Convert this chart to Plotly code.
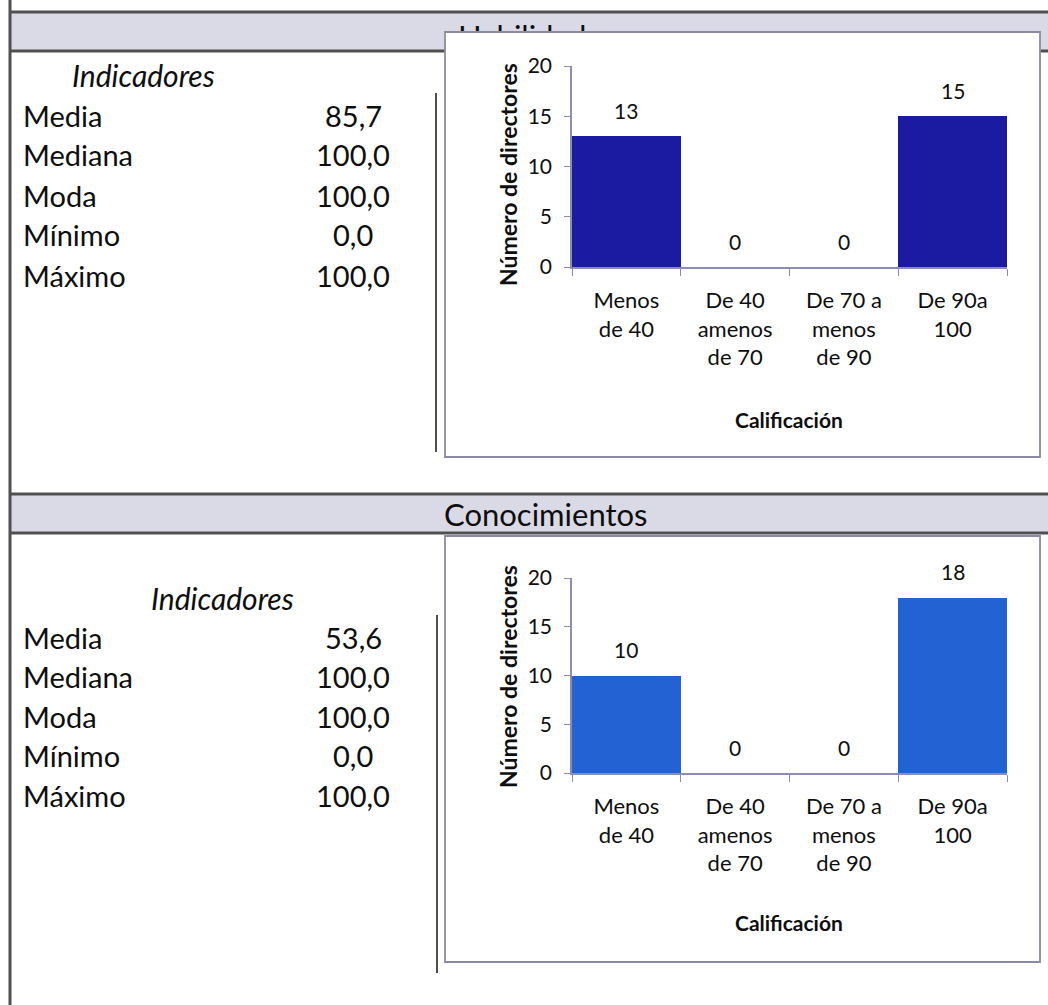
import plotly.graph_objects as go

W, H = 1048, 1005

# ---- data -------------------------------------------------------------
categories = ["Menos\nde 40", "De 40\namenos\nde 70", "De 70 a\nmenos\nde 90", "De 90a\n100"]
habilidades_counts = [13, 0, 0, 15]
conocimientos_counts = [10, 0, 0, 18]

indicator_names = ["Media", "Mediana", "Moda", "Mínimo", "Máximo"]
habilidades_stats = ["85,7", "100,0", "100,0", "0,0", "100,0"]
conocimientos_stats = ["53,6", "100,0", "100,0", "0,0", "100,0"]

y_ticks = [0, 5, 10, 15, 20]

# ---- styling ----------------------------------------------------------
FONT = "Lato"
TXT = "#0e0e0e"
AXIS = "#8c8cb4"
RULE = "#505050"
HEADER_FILL = "#dadae6"
BOX_LINE = "#8a8aa2"
DARK_BLUE = "#1b1ba2"
MID_BLUE = "#2262d2"


def fx(px):
    return px / W


def fy(py):
    return 1 - py / H


cat_labels = [c.replace("\n", "<br>") for c in categories]

fig = go.Figure()

# two bar panels
fig.add_trace(go.Bar(x=cat_labels, y=habilidades_counts, marker=dict(color=DARK_BLUE, line_width=0),
                     xaxis="x", yaxis="y", showlegend=False, hoverinfo="skip"))
fig.add_trace(go.Bar(x=cat_labels, y=conocimientos_counts, marker=dict(color=MID_BLUE, line_width=0),
                     xaxis="x2", yaxis="y2", showlegend=False, hoverinfo="skip"))

# page-wide overlay in pixel units (header title partly hidden by the chart frame)
fig.add_trace(go.Scatter(x=[537], y=[40], mode="text", text=["Habilidades"],
                         textfont=dict(family=FONT, size=31, color=TXT),
                         xaxis="x3", yaxis="y3", showlegend=False, hoverinfo="skip",
                         cliponaxis=False))

panels = [
    # (x axis, y axis, plot left, plot right, y of 0, y of 20)
    ("x", "y", 572, 1007, 267, 66),
    ("x2", "y2", 572, 1007, 773, 578),
]

axis_common_x = dict(type="category", categoryorder="array", categoryarray=cat_labels,
                     range=[-0.5, 3.5], tickson="boundaries", ticks="outside", ticklen=7,
                     tickcolor=AXIS, tickwidth=1.2, showline=True, linecolor=AXIS, linewidth=1.5,
                     showgrid=False, zeroline=False, ticklabelstandoff=13, automargin=False,
                     tickfont=dict(family=FONT, size=22, color=TXT), fixedrange=True)
axis_common_y = dict(range=[0, 20], tickvals=y_ticks, ticks="outside", ticklen=6,
                     tickcolor=AXIS, tickwidth=1.2, showline=True, linecolor=AXIS, linewidth=1.5,
                     showgrid=False, zeroline=False, ticklabelstandoff=8, automargin=False,
                     tickfont=dict(family=FONT, size=21, color=TXT), fixedrange=True)

layout_axes = {}
for xa, ya, left, right, y0, y20 in panels:
    xkey = "xaxis" if xa == "x" else "xaxis" + xa[1:]
    ykey = "yaxis" if ya == "y" else "yaxis" + ya[1:]
    layout_axes[xkey] = dict(axis_common_x, domain=[fx(left), fx(right)], anchor=ya)
    layout_axes[ykey] = dict(axis_common_y, domain=[fy(y0), fy(y20)], anchor=xa)

layout_axes["xaxis3"] = dict(domain=[0, 1], range=[0, W], visible=False, anchor="y3",
                             fixedrange=True, automargin=False)
layout_axes["yaxis3"] = dict(domain=[0, 1], range=[H, 0], visible=False, anchor="x3",
                             fixedrange=True, automargin=False)

shapes = []


def line(x0, y0, x1, y1, color=RULE, width=2, layer="below"):
    shapes.append(dict(type="line", xref="paper", yref="paper", x0=fx(x0), y0=fy(y0),
                       x1=fx(x1), y1=fy(y1), line=dict(color=color, width=width), layer=layer))


def rect(x0, y0, x1, y1, fill, color=None, width=0, layer="below"):
    shapes.append(dict(type="rect", xref="paper", yref="paper", x0=fx(x0), y0=fy(y0),
                       x1=fx(x1), y1=fy(y1), fillcolor=fill,
                       line=dict(color=color or fill, width=width), layer=layer))


# section header bars
for top, bottom in [(12, 51), (494, 533)]:
    rect(11, top, W, bottom, HEADER_FILL)
    line(11, top, W, top, RULE, 3)
    line(11, bottom, W, bottom, RULE, 3)

# outer left rule
line(10, 0, 10, H, RULE, 3)

# thin separators next to the indicator tables
line(436, 93, 436, 452, RULE, 2)
line(437, 615, 437, 973, RULE, 2)

# chart frames
rect(445, 32, 1040, 457, "white", BOX_LINE, 1.8)
rect(445, 536, 1040, 962, "white", BOX_LINE, 1.8)

# the chart frame overlaps the lower half of the "Habilidades" title
rect(446.5, 33, 1038.5, 57, "white", layer="above")
line(445, 32, 1040, 32, BOX_LINE, 1.8, layer="above")

annotations = []


def text(x, y, s, size, xanchor="left", bold=False, italic=False, angle=0, color=TXT):
    annotations.append(dict(x=fx(x), y=fy(y), xref="paper", yref="paper", text=s,
                            showarrow=False, xanchor=xanchor, yanchor="middle", textangle=angle,
                            font=dict(family=FONT, size=size, color=color,
                                      weight="bold" if bold else "normal",
                                      style="italic" if italic else "normal")))


# indicator tables
text(143, 75, "Indicadores", 30, xanchor="center", italic=True)
for i, (name, val) in enumerate(zip(indicator_names, habilidades_stats)):
    yy = 115 + 40 * i
    text(21, yy, name, 29)
    text(353, yy, val, 29, xanchor="center")

text(222, 598, "Indicadores", 30, xanchor="center", italic=True)
for i, (name, val) in enumerate(zip(indicator_names, conocimientos_stats)):
    yy = 637 + 39.5 * i
    text(21, yy, name, 29)
    text(353, yy, val, 29, xanchor="center")

# second header title
text(546, 514, "Conocimientos", 31, xanchor="center")

# axis titles
for ytitle_center, xtitle_y in [(175, 419), (677, 922)]:
    text(508, ytitle_center, "Número de directores", 23, xanchor="center", bold=True, angle=-90)
    text(789, xtitle_y, "Calificación", 21, xanchor="center", bold=True)

# value labels above each bar
for xa, ya, counts in [("x", "y", habilidades_counts), ("x2", "y2", conocimientos_counts)]:
    for lab, v in zip(cat_labels, counts):
        annotations.append(dict(x=lab, y=v, xref=xa, yref=ya, text=str(v), showarrow=False,
                                yshift=26, yanchor="middle",
                                font=dict(family=FONT, size=21, color=TXT)))

fig.update_layout(
    width=W, height=H,
    autosize=False,
    margin=dict(l=0, r=0, t=0, b=0, pad=0),
    paper_bgcolor="white",
    plot_bgcolor="rgba(0,0,0,0)",
    bargap=0,
    shapes=shapes,
    annotations=annotations,
    **layout_axes,
)

fig.write_html("out.html", config={"displayModeBar": False})
